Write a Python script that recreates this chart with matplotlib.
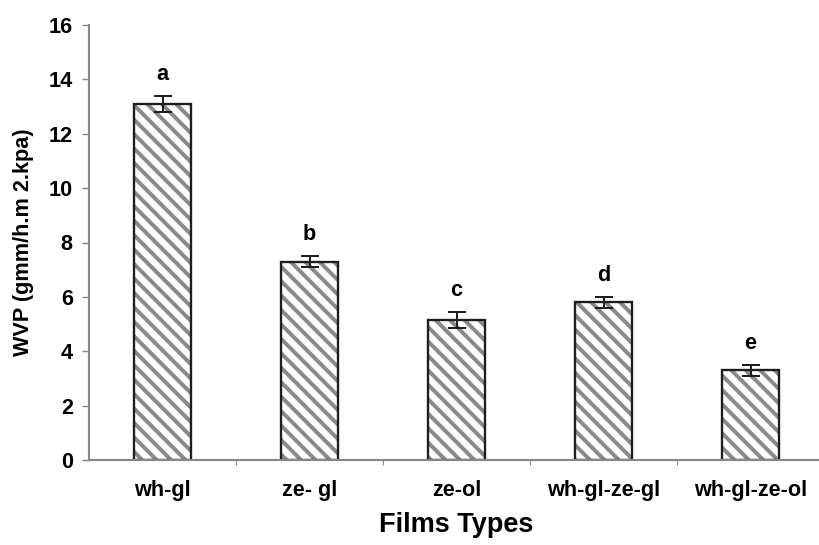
import matplotlib
matplotlib.use("Agg")
import matplotlib.pyplot as plt
import numpy as np

# data
films = ["wh-gl", "ze- gl", "ze-ol", "wh-gl-ze-gl", "wh-gl-ze-ol"]
wvp = [13.1, 7.3, 5.15, 5.8, 3.3]
wvp_err = [0.3, 0.2, 0.3, 0.2, 0.2]
letters = ["a", "b", "c", "d", "e"]

plt.rcParams["font.family"] = ["Liberation Sans", "DejaVu Sans"]
plt.rcParams["font.weight"] = "bold"
plt.rcParams["hatch.linewidth"] = 2.2

DPI = 130
fig = plt.figure(figsize=(819 / DPI, 545 / DPI), dpi=DPI)
ax = fig.add_axes([89 / 819, 85 / 545, 735 / 819, 435 / 545])

x = np.arange(len(films))
# hatch in grey, outline in black -> two layers
ax.bar(x, wvp, width=0.39, color="white", edgecolor="#8a8a8a",
       linewidth=0, hatch="\\\\\\", zorder=2)
ax.bar(x, wvp, width=0.39, fill=False, edgecolor="#1e1e1e",
       linewidth=1.3, zorder=2.5)
ax.errorbar(x, wvp, yerr=wvp_err, fmt="none", ecolor="#1e1e1e",
            elinewidth=1.1, capsize=5, capthick=1.1, zorder=3)

for xi, v, e, lab in zip(x, wvp, wvp_err, letters):
    ax.annotate(lab, (xi, v + e), xytext=(0, 6), textcoords="offset points",
                ha="center", va="bottom", fontsize=12, fontweight="bold")

ax.set_xlim(-0.5, 4.5)
ax.set_ylim(0, 16)
ax.set_yticks(np.arange(0, 17, 2))
ax.set_xticks(x)
ax.set_xticklabels(films, fontsize=12, fontweight="bold")
ax.tick_params(axis="x", length=0, pad=11)
ax.set_xticks(np.arange(0.5, 4.5, 1), minor=True)
ax.tick_params(axis="x", which="minor", length=3, color="#888888")
ax.tick_params(axis="y", length=4, color="#888888", labelsize=12, pad=5)
for t in ax.get_yticklabels():
    t.set_fontweight("bold")

for s in ["top", "right"]:
    ax.spines[s].set_visible(False)
for s in ["left", "bottom"]:
    ax.spines[s].set_color("#888888")
    ax.spines[s].set_linewidth(1.2)

ax.set_ylabel("WVP (gmm/h.m 2.kpa)", fontsize=12, fontweight="bold", labelpad=8)
ax.set_xlabel("Films Types", fontsize=15, fontweight="bold", labelpad=6)

fig.savefig("out.png", dpi=DPI, facecolor="white")
